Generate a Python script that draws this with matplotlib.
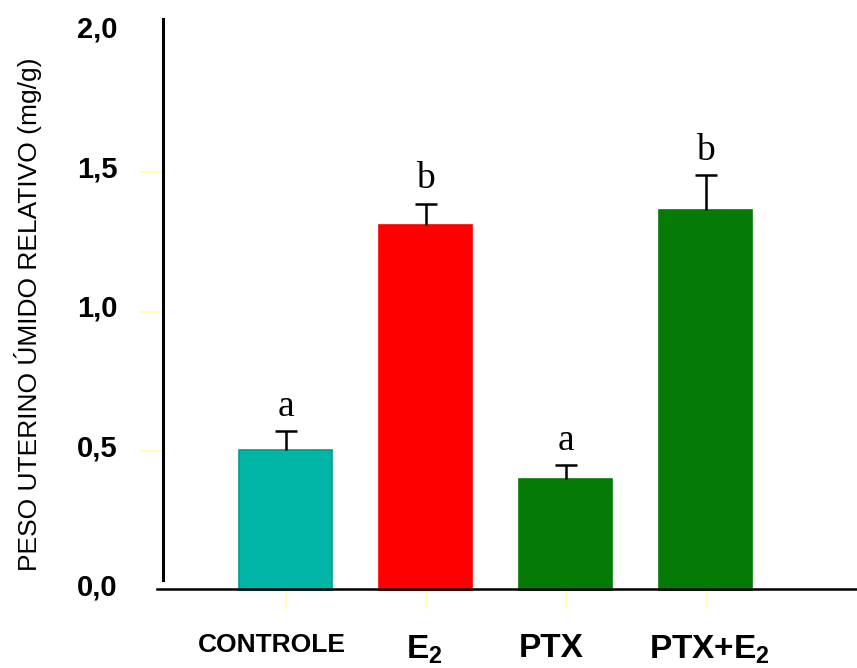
import matplotlib
matplotlib.use("Agg")
import matplotlib.pyplot as plt
from matplotlib.transforms import ScaledTranslation

# ---- data ----
categories = ['CONTROLE', r'E$_\mathbf{2}$', 'PTX', r'PTX+E$_\mathbf{2}$']
means = [0.505, 1.31, 0.40, 1.365]
errors_up = [0.068, 0.078, 0.050, 0.125]
letters = ['a', 'b', 'a', 'b']
colors = ['#00B5A5', '#FF0000', '#067A06', '#067A06']
edgecolors = ['#009C8C', '#FF0000', '#067A06', '#067A06']
yticks = [0.0, 0.5, 1.0, 1.5, 2.0]
yticklabels = ['0,0', '0,5', '1,0', '1,5', '2,0']
ylabel = 'PESO UTERINO ÚMIDO RELATIVO (mg/g)'

plt.rcParams['font.family'] = ['Liberation Sans', 'DejaVu Sans']
plt.rcParams['mathtext.fontset'] = 'custom'
plt.rcParams['mathtext.rm'] = 'Liberation Sans'
plt.rcParams['mathtext.bf'] = 'Liberation Sans:bold'

fig = plt.figure(figsize=(8.57, 6.68), dpi=100)
ax = fig.add_axes([0.1902, 0.11527, 0.8098, 0.8563])

x = list(range(len(categories)))
ax.bar(x, means, width=0.665, color=colors, edgecolor=edgecolors, linewidth=1.2, zorder=2)
eb = ax.errorbar(x, means, yerr=[[0] * len(means), errors_up], fmt='none', ecolor='black',
                 elinewidth=1.8, capsize=8, capthick=1.8, zorder=3)
# hide lower caps (only upper error shown)
for cl in eb[1]:
    yd = list(cl.get_ydata())
    if all(abs(a - b) < 1e-9 for a, b in zip(yd, means)):
        cl.set_visible(False)

for xi, m, e, lt in zip(x, means, errors_up, letters):
    ax.annotate(lt, (xi, m + e), xytext=(0, 11), textcoords='offset points',
                ha='center', va='baseline', fontsize=27, family='Liberation Serif')

ax.set_xlim(-0.875, 4.08)
ax.set_ylim(0, 2.05)

# spines
for s in ['top', 'right', 'bottom']:
    ax.spines[s].set_visible(False)
ax.spines['left'].set_linewidth(2.2)
ax.spines['left'].set_bounds(0.04, 2.05)
ax.plot([-0.0086, 1.0], [0.003, 0.003], transform=ax.transAxes, color='black',
        lw=1.8, clip_on=False, zorder=4)

# y ticks
ax.set_yticks(yticks)
ax.set_yticklabels(yticklabels, fontsize=21, fontweight='bold')
ax.tick_params(axis='y', direction='out', length=16.5, width=1.5, color='#FFFFB8', pad=16)
ytl = ax.yaxis.get_major_ticks()
ytl[0].tick1line.set_visible(False)
ytl[-1].tick1line.set_visible(False)
for lab in ax.get_yticklabels():
    lab.set_transform(lab.get_transform() + ScaledTranslation(0, 6 / 100, fig.dpi_scale_trans))

# x ticks (marks only) and category labels
ax.set_xticks(x)
ax.set_xticklabels([])
ax.tick_params(axis='x', direction='out', length=13, width=1.5, color='#FFFFB8')
for xi, cat, fs, dx in zip(x, categories, [19, 24, 24, 24], [-14, -1, -14, 4]):
    ax.annotate(cat, (xi, 0), xycoords=('data', 'axes fraction'),
                xytext=(dx * 0.72, -30.2), textcoords='offset points',
                ha='center', va='top', fontsize=fs, fontweight='bold')

ax.set_ylabel(ylabel, fontsize=19)
ax.yaxis.set_label_coords(-0.174, 0.483)

fig.savefig('out.png', dpi=100)
